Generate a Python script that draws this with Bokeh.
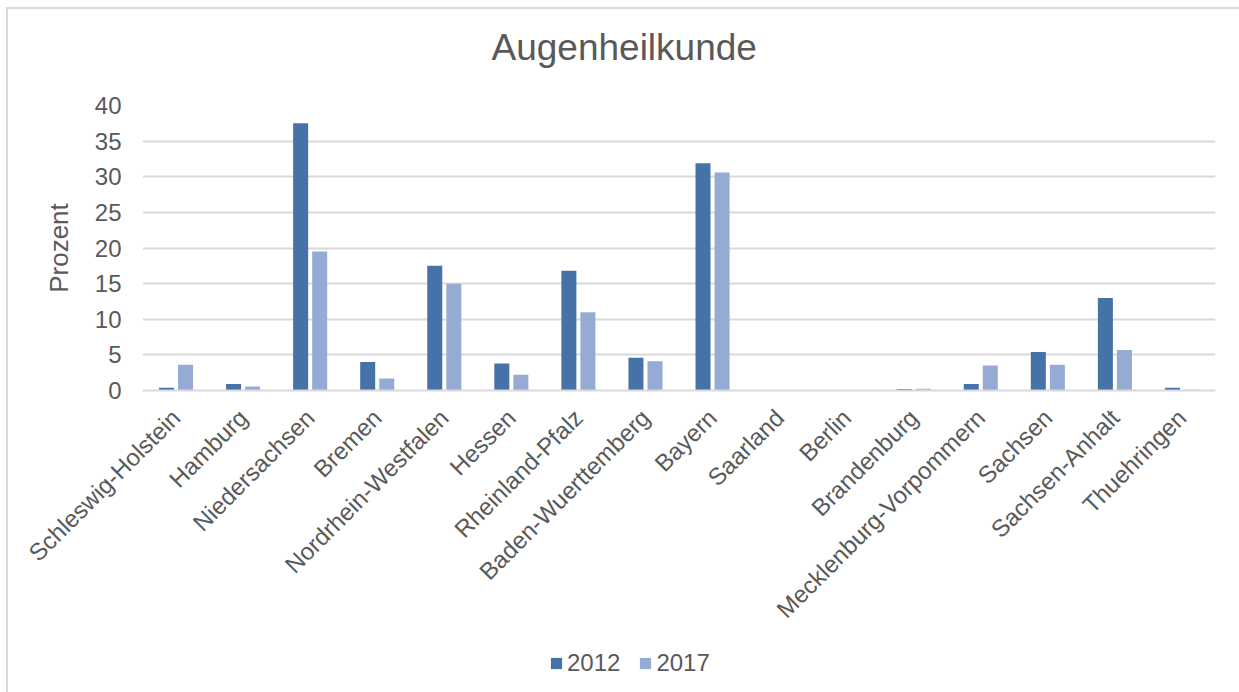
import math
from bokeh.plotting import figure
from bokeh.layouts import column
from bokeh.models import ColumnDataSource, FactorRange, Range1d, SingleIntervalTicker, Legend, LegendItem
from bokeh.transform import dodge
from bokeh.embed import file_html
from bokeh.resources import INLINE

categories = ["Schleswig-Holstein", "Hamburg", "Niedersachsen", "Bremen",
              "Nordrhein-Westfalen", "Hessen", "Rheinland-Pfalz", "Baden-Wuerttemberg",
              "Bayern", "Saarland", "Berlin", "Brandenburg",
              "Mecklenburg-Vorpommern", "Sachsen", "Sachsen-Anhalt", "Thuehringen"]
values_2012 = [0.4, 0.9, 37.5, 4.0, 17.5, 3.8, 16.8, 4.6, 31.9, 0.0, 0.0, 0.2, 0.9, 5.4, 13.0, 0.4]
values_2017 = [3.6, 0.55, 19.5, 1.7, 15.0, 2.2, 11.0, 4.1, 30.6, 0.0, 0.0, 0.25, 3.5, 3.6, 5.7, 0.1]
series_names = ["2012", "2017"]
chart_title = "Augenheilkunde"

FONT = "Liberation Sans"
TXT = "#595959"
GRID = "#d9d9d9"
C2012 = "#4673a7"
C2017 = "#96abd3"

src = ColumnDataSource(dict(cat=categories, v2012=values_2012, v2017=values_2017))

W = 1231

# title strip
pt = figure(width=W, height=76, x_range=Range1d(0, 1), y_range=Range1d(0, 1),
            output_backend="svg", toolbar_location=None, x_axis_type=None, y_axis_type=None,
            min_border=0)
pt.outline_line_color = None
pt.grid.visible = False
pt.title.text = chart_title
pt.title.text_font = FONT
pt.title.text_font_size = "37px"
pt.title.text_font_style = "normal"
pt.title.text_color = TXT
pt.title.align = "left"
pt.title.offset = 349
pt.title.standoff = 31

# main chart
p = figure(width=W, height=555, x_range=FactorRange(factors=categories),
           y_range=Range1d(0, 40), output_backend="svg", toolbar_location=None,
           min_border_left=134, min_border_right=24, min_border_top=20, min_border_bottom=250)
p.outline_line_color = None

r1 = p.vbar(x=dodge("cat", -0.142, range=p.x_range), top="v2012", width=0.224, source=src,
            fill_color=C2012, line_color=None)
r2 = p.vbar(x=dodge("cat", 0.142, range=p.x_range), top="v2017", width=0.224, source=src,
            fill_color=C2017, line_color=None)

p.yaxis.ticker = SingleIntervalTicker(interval=5)
p.yaxis.axis_line_color = None
p.yaxis.major_tick_line_color = None
p.yaxis.minor_tick_line_color = None
p.yaxis.major_label_text_font = FONT
p.yaxis.major_label_text_font_size = "24px"
p.yaxis.major_label_text_color = TXT
p.yaxis.major_label_standoff = 15
p.yaxis.axis_label = "Prozent"
p.yaxis.axis_label_text_font = FONT
p.yaxis.axis_label_text_font_size = "26px"
p.yaxis.axis_label_text_font_style = "normal"
p.yaxis.axis_label_text_color = TXT
p.yaxis.axis_label_standoff = 18

p.xaxis.axis_line_color = GRID
p.xaxis.axis_line_width = 2
p.xaxis.major_tick_line_color = None
p.xaxis.minor_tick_line_color = None
p.xaxis.major_label_orientation = math.pi / 4
p.xaxis.major_label_text_font = FONT
p.xaxis.major_label_text_font_size = "24px"
p.xaxis.major_label_text_color = TXT
p.xaxis.major_label_standoff = 17

p.xgrid.grid_line_color = None
p.ygrid.grid_line_color = GRID
p.ygrid.grid_line_width = 2

# legend strip below the chart (same series, drawn out of view so only the legend shows)
pl = figure(width=W, height=52, x_range=FactorRange(factors=categories), y_range=Range1d(100, 101),
            output_backend="svg", toolbar_location=None, x_axis_type=None, y_axis_type=None,
            min_border=0)
pl.outline_line_color = None
pl.grid.visible = False
l1 = pl.vbar(x=dodge("cat", -0.142, range=pl.x_range), top="v2012", width=0.224, source=src,
             fill_color=C2012, line_color=None)
l2 = pl.vbar(x=dodge("cat", 0.142, range=pl.x_range), top="v2017", width=0.224, source=src,
             fill_color=C2017, line_color=None)

legend = Legend(items=[LegendItem(label=series_names[0], renderers=[l1]),
                       LegendItem(label=series_names[1], renderers=[l2])],
                orientation="horizontal", location=(407, 15))
legend.label_text_font = FONT
legend.label_text_font_size = "24px"
legend.label_text_color = TXT
legend.glyph_width = 14
legend.glyph_height = 14
legend.label_standoff = 4
legend.spacing = 18
legend.padding = 0
legend.margin = 0
legend.border_line_color = None
legend.background_fill_alpha = 0
pl.add_layout(legend, "center")

layout = column(pt, p, pl, spacing=0,
                styles={"margin-left": "6px", "margin-top": "7px",
                        "border-left": "2px solid #d9d9d9", "border-top": "2px solid #d9d9d9"})

open("out.html", "w").write(file_html(layout, INLINE))
